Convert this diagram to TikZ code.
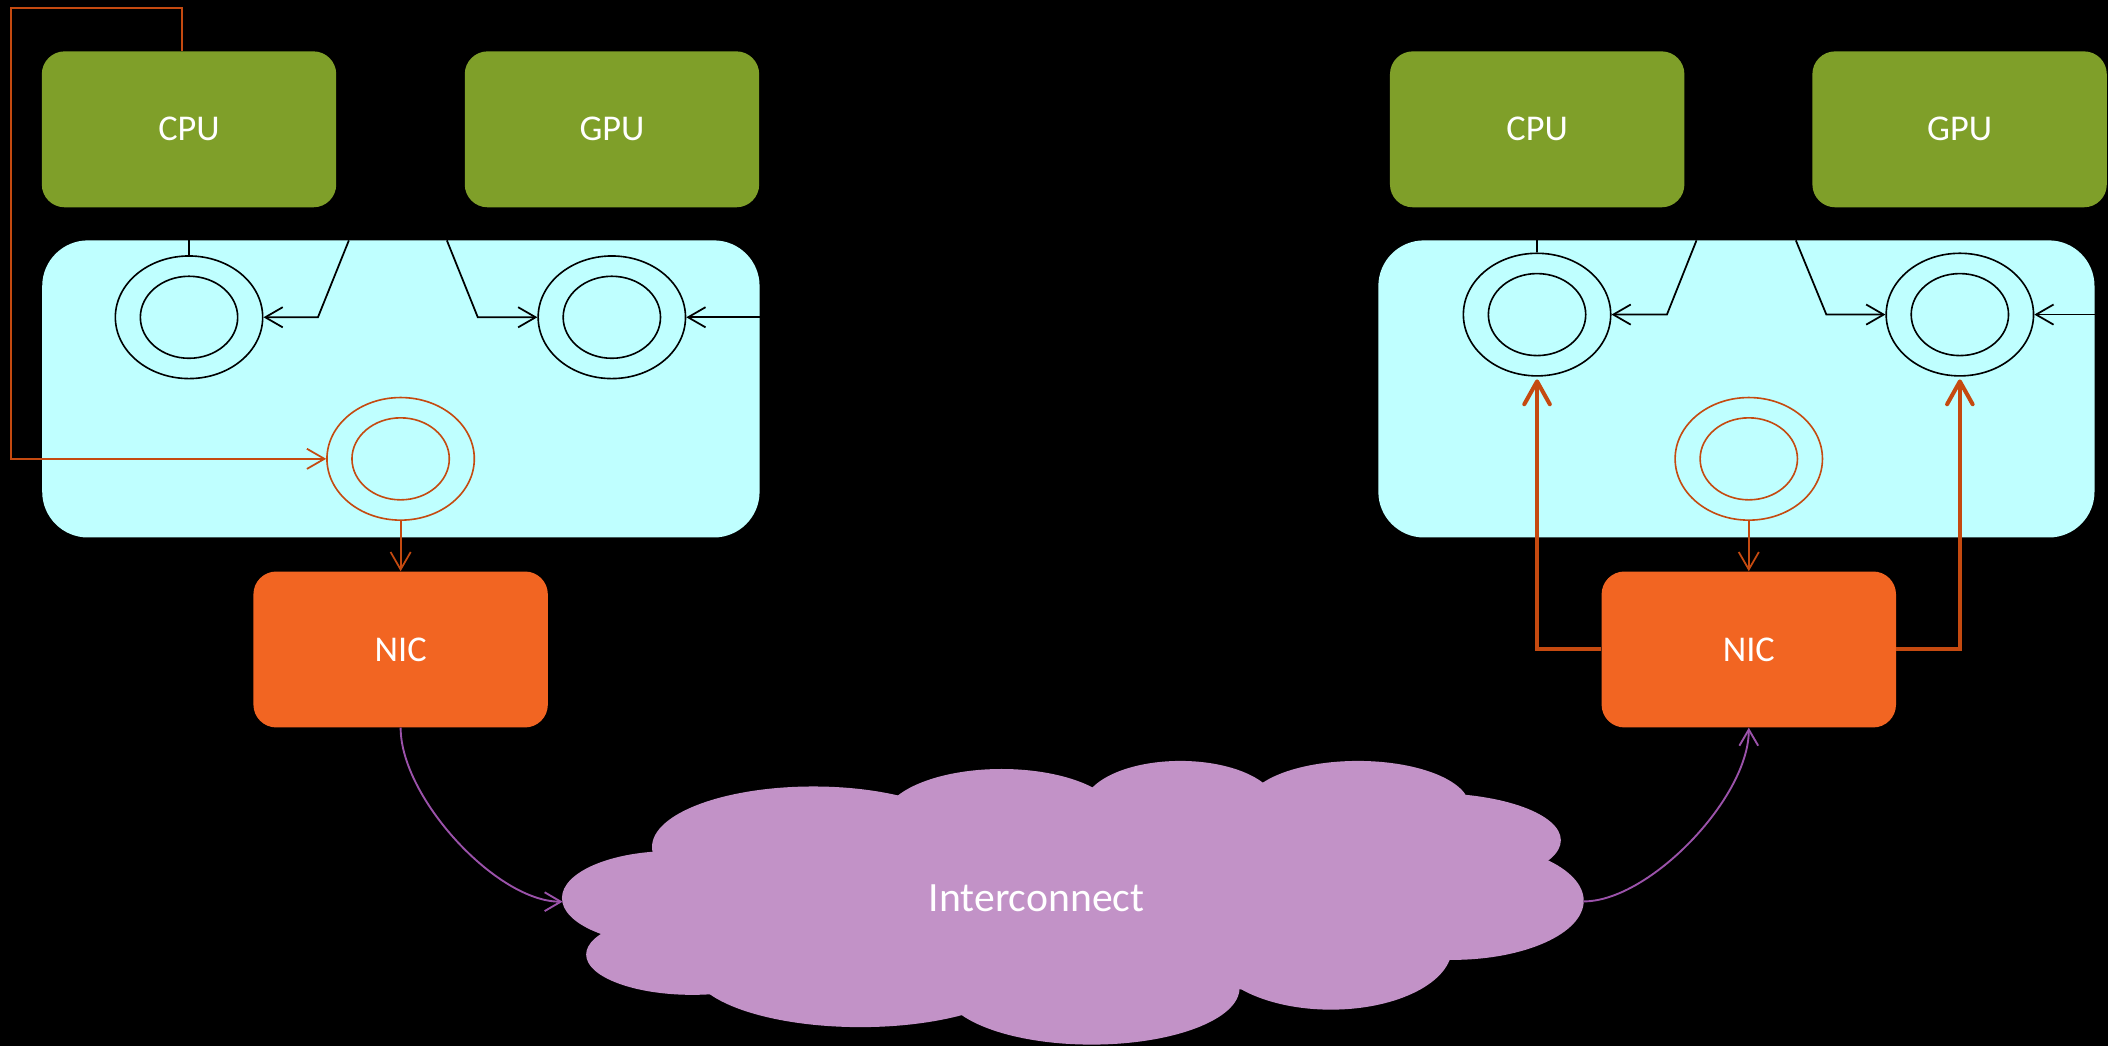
\documentclass[tikz,border=0pt]{standalone}
\usepackage{fontspec}
\setmainfont{Carlito}
\usetikzlibrary{arrows.meta,shapes.geometric,calc}
\definecolor{cpugreen}{RGB}{127,159,41}
\definecolor{hubcyan}{RGB}{191,255,255}
\definecolor{nicorange}{RGB}{242,101,34}
\definecolor{pathorange}{RGB}{197,74,16}
\definecolor{linkpurple}{RGB}{155,82,170}
\definecolor{cloudlilac}{RGB}{194,146,199}

\begin{document}
\begin{tikzpicture}[x=1pt,y=-1pt,
  unitbox/.style={rectangle,rounded corners=17pt,minimum width=219pt,minimum height=116pt,
    inner sep=0pt,text=white,font=\fontsize{27}{32}\selectfont},
  cpubox/.style={unitbox,fill=cpugreen},
  nicbox/.style={unitbox,fill=nicorange},
  hub/.style={rectangle,rounded corners=34pt,fill=hubcyan,minimum height=221pt,inner sep=0pt},
  ringout/.style={ellipse,draw,minimum width=109.6pt,minimum height=91.2pt,inner sep=0pt,line width=1.2pt},
  ringin/.style={ellipse,draw,minimum width=72.4pt,minimum height=61pt,inner sep=0pt,line width=1.2pt},
  blackring/.style={draw=black},
  orangering/.style={draw=pathorange},
  feed/.style={draw=black,line width=1.3pt},
  feedarrow/.style={feed,-{Straight Barb[length=13pt,width=15pt]}},
  orline/.style={draw=pathorange,line width=1.3pt,-{Straight Barb[length=13pt,width=15pt]}},
  orthick/.style={draw=pathorange,line width=3pt,-{Straight Barb[length=17pt,width=19pt,round]}},
  purpline/.style={draw=linkpurple,line width=1.4pt,-{Straight Barb[length=12pt,width=14pt]}}
]
% page
\fill[black] (0,0) rectangle (1568,778);
\useasboundingbox (0,0) rectangle (1568,778);

% ---------- left node ----------
\node[cpubox] (cpuL) at (140.6,96.2) {CPU};
\node[cpubox] (gpuL) at (455.2,96.2) {GPU};
\node[hub,minimum width=533.6pt] (hubL) at (298.2,289.3) {};
\node[ringout,blackring] (ringCL) at (140.6,236) {};
\node[ringin,blackring] (ringCLi) at (140.6,236) {};
\node[ringout,blackring] (ringGL) at (455.1,236) {};
\node[ringin,blackring] (ringGLi) at (455.1,236) {};
\node[ringout,orangering] (ringOL) at (298,341.3) {};
\node[ringin,orangering] (ringOLi) at (298,341.3) {};
\node[nicbox] (nicL) at (298,483.1) {NIC};

\coordinate (aL1) at (259.5,178.8);
\coordinate (aL2) at (236.5,236);
\coordinate (bL1) at (332.4,178.8);
\coordinate (bL2) at (355.4,236);
\coordinate (loopTL) at (8,6);

\draw[feed] (ringCL.north |- hubL.north) -- (ringCL.north);
\draw[feedarrow] (aL1) -- (aL2) -- (ringCL.east);
\draw[feedarrow] (bL1) -- (bL2) -- (ringGL.west);
\draw[feedarrow] (hubL.east |- ringGL.east) -- (ringGL.east);
\draw[orline] ([xshift=-5.4pt]cpuL.north) |- (loopTL) |- (ringOL.west);
\draw[orline] (ringOL.south) -- (nicL.north);

% ---------- right node ----------
\node[cpubox] (cpuR) at (1143.4,96.2) {CPU};
\node[cpubox] (gpuR) at (1457.6,96.2) {GPU};
\node[hub,minimum width=532.7pt] (hubR) at (1291.6,289.3) {};
\node[ringout,blackring] (ringCR) at (1143.3,234) {};
\node[ringin,blackring] (ringCRi) at (1143.3,234) {};
\node[ringout,blackring] (ringGR) at (1457.8,234) {};
\node[ringin,blackring] (ringGRi) at (1457.8,234) {};
\node[ringout,orangering] (ringOR) at (1300.8,341.3) {};
\node[ringin,orangering] (ringORi) at (1300.8,341.3) {};
\node[nicbox] (nicR) at (1300.8,483.1) {NIC};

\coordinate (aR1) at (1261.9,178.8);
\coordinate (aR2) at (1239.9,234);
\coordinate (bR1) at (1335.8,178.8);
\coordinate (bR2) at (1358.5,234);

\draw[feed] (ringCR.north |- hubR.north) -- (ringCR.north);
\draw[feedarrow] (aR1) -- (aR2) -- (ringCR.east);
\draw[feedarrow] (bR1) -- (bR2) -- (ringGR.west);
\draw[feedarrow] (hubR.east |- ringGR.east) -- (ringGR.east);
\draw[orline] (ringOR.south) -- (nicR.north);
\draw[orthick] (nicR.west) -| ([yshift=-2pt]ringCR.south);
\draw[orthick] (nicR.east) -| ([yshift=-2pt]ringGR.south);

% ---------- interconnect cloud ----------
\begin{scope}[fill=cloudlilac]
  \fill (500,668) ellipse [x radius=82,y radius=35];
  \fill (515,710) ellipse [x radius=79,y radius=30];
  \fill (640,720) ellipse [x radius=125,y radius=44];
  \fill (812,735) ellipse [x radius=110,y radius=42];
  \fill (990,705) ellipse [x radius=90,y radius=46];
  \fill (1080,670) ellipse [x radius=98,y radius=44];
  \fill (1065,625) ellipse [x radius=96,y radius=35];
  \fill (1010,600) ellipse [x radius=83,y radius=34];
  \fill (878,600) ellipse [x radius=72,y radius=34];
  \fill (745,610) ellipse [x radius=88,y radius=38];
  \fill (605,630) ellipse [x radius=120,y radius=45];
  \fill (800,672) ellipse [x radius=300,y radius=70];
\end{scope}
\node[text=white,font=\fontsize{31}{37}\selectfont] (cloud) at (771,668) {Interconnect};
\coordinate (cloudW) at (418.5,670.7);
\coordinate (cloudE) at (1178,670.5);

\draw[purpline] (nicL.south) .. controls ($(nicL.south)+(0,52)$) and ($(cloudW)+(-49,0)$) .. (cloudW);
\draw[purpline] (cloudE) .. controls ($(cloudE)+(49,0)$) and ($(nicR.south)+(0,52)$) .. (nicR.south);
\end{tikzpicture}
\end{document}
